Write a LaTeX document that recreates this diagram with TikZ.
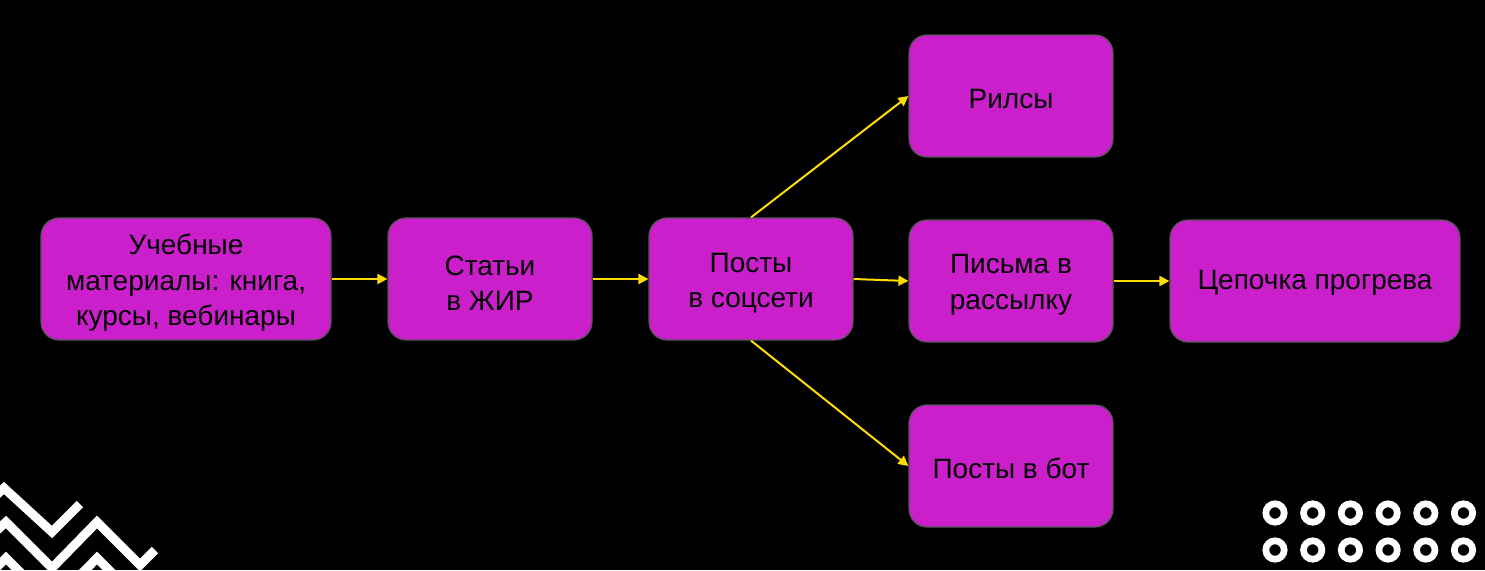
\documentclass[tikz,border=0pt]{standalone}
\usepackage{fontspec}
\setmainfont{Liberation Sans}
\usetikzlibrary{arrows.meta}
\definecolor{boxfill}{RGB}{203,31,203}
\definecolor{boxline}{RGB}{85,85,85}
\definecolor{arr}{RGB}{255,221,0}
\begin{document}
\begin{tikzpicture}[x=1pt,y=-1pt,
  box/.style={draw=boxline,line width=1.2pt,fill=boxfill,rounded corners=18pt,
    minimum height=122pt,inner sep=0pt},
  narrow/.style={box,minimum width=204pt},
  wide/.style={box,minimum width=290pt},
  txt/.style={align=center,inner sep=0pt,font=\fontsize{28}{35.5}\selectfont,text=black},
  conn/.style={draw=arr,line width=2pt,-{Triangle[length=10pt,width=10pt]}},
  zig/.style={draw=white,line width=9pt,miter limit=10},
  ring/.style={draw=white,line width=6.7pt}]
\fill[black] (0,0) rectangle (1485,570);
\useasboundingbox (0,0) rectangle (1485,570);
\begin{scope}
\clip (0,0) rectangle (1485,570);
\draw[zig] (-20,510)--(4,488)--(52,532)--(80,504);
\draw[zig] (-20,546)--(6,522)--(52,568)--(97,522)--(140,565)--(155,550);
\draw[zig] (-20,584)--(6,558)--(52,604)--(97,558)--(140,601);
\end{scope}
\foreach \i in {0,...,5}{
  \draw[ring] (1275+37.7*\i,513) circle (9.2);
  \draw[ring] (1275+37.7*\i,550) circle (9.2);
}
\node[wide]   (a) at (186,279) {};
\node[narrow] (b) at (490,279) {};
\node[narrow] (c) at (751,279) {};
\node[narrow] (d) at (1011,96) {};
\node[narrow] (e) at (1011,281) {};
\node[wide]   (f) at (1315,281) {};
\node[narrow] (g) at (1011,466) {};
\node[txt] (ta) at ([yshift=-4pt]a.center) {Учебные\\материалы: книга,\\курсы, вебинары};
\node[txt] (tb) at ([yshift=-4pt]b.center) {Статьи\\в ЖИР};
\node[txt] (tc) at ([yshift=-4pt]c.center) {Посты\\в соцсети};
\node[txt] (td) at ([yshift=-3pt]d.center) {Рилсы};
\node[txt] (te) at ([yshift=-4pt]e.center) {Письма в\\рассылку};
\node[txt] (tf) at ([yshift=-2pt]f.center) {Цепочка прогрева};
\node[txt] (tg) at ([yshift=-2pt]g.center) {Посты в бот};
\draw[conn] (a.east) -- (b.west);
\draw[conn] (b.east) -- (c.west);
\draw[conn] (c.east) -- (e.west);
\draw[conn] (e.east) -- (f.west);
\draw[conn] (c.north) -- (d.west);
\draw[conn] (c.south) -- (g.west);
\end{tikzpicture}
\end{document}
